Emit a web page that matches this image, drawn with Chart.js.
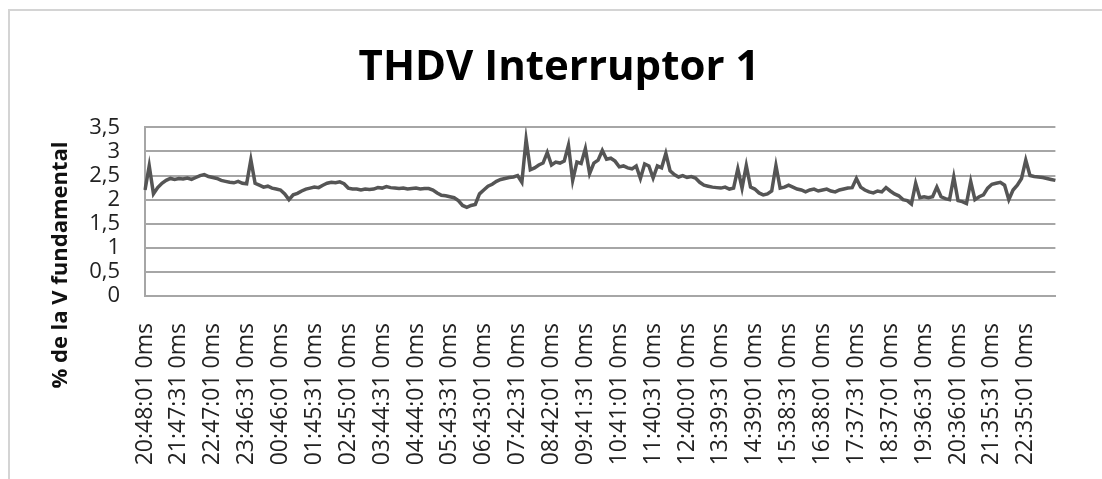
<!DOCTYPE html>
<html>
<head>
<meta charset="utf-8">
<script src="https://cdn.jsdelivr.net/npm/chart.js@4.4.1/dist/chart.umd.min.js"></script>
<style>
  body { margin: 0; background: #fff; }
</style>
</head>
<body>
<canvas id="grafico" width="1102" height="479"></canvas>
<script>
var horas = ['20:48:01 0ms', '21:47:31 0ms', '22:47:01 0ms', '23:46:31 0ms', '00:46:01 0ms',
  '01:45:31 0ms', '02:45:01 0ms', '03:44:31 0ms', '04:44:01 0ms', '05:43:31 0ms',
  '06:43:01 0ms', '07:42:31 0ms', '08:42:01 0ms', '09:41:31 0ms', '10:41:01 0ms',
  '11:40:31 0ms', '12:40:01 0ms', '13:39:31 0ms', '14:39:01 0ms', '15:38:31 0ms',
  '16:38:01 0ms', '17:37:31 0ms', '18:37:01 0ms', '19:36:31 0ms', '20:36:01 0ms',
  '21:35:31 0ms', '22:35:01 0ms']

// 8 muestras entre cada etiqueta de hora
var muestrasPorHora = 8

var thdv = [
  2.2, 2.7, 2.12, 2.25, 2.34, 2.4, 2.44, 2.42,
  2.44, 2.43, 2.45, 2.42, 2.46, 2.5, 2.52, 2.48,
  2.46, 2.44, 2.4, 2.38, 2.36, 2.35, 2.38, 2.34,
  2.33, 2.83, 2.34, 2.3, 2.26, 2.28, 2.24, 2.22,
  2.2, 2.12, 2.0, 2.1, 2.13, 2.18, 2.22, 2.24,
  2.26, 2.25, 2.3, 2.34, 2.36, 2.35, 2.37, 2.33,
  2.24, 2.22, 2.22, 2.2, 2.22, 2.21, 2.22, 2.25,
  2.24, 2.27, 2.25, 2.24, 2.23, 2.24, 2.22, 2.23,
  2.24, 2.22, 2.23, 2.23, 2.2, 2.14, 2.09, 2.08,
  2.06, 2.04, 1.98, 1.88, 1.84, 1.88, 1.9, 2.12,
  2.2, 2.28, 2.32, 2.38, 2.42, 2.44, 2.46, 2.47,
  2.5, 2.36, 3.25, 2.62, 2.66, 2.72, 2.76, 2.98,
  2.72, 2.78, 2.76, 2.8, 3.13, 2.4, 2.78, 2.75,
  3.06, 2.54, 2.76, 2.82, 3.02, 2.84, 2.86, 2.8,
  2.68, 2.7, 2.66, 2.64, 2.7, 2.44, 2.74, 2.7,
  2.45, 2.7, 2.66, 2.96, 2.6, 2.52, 2.47, 2.5,
  2.46, 2.48, 2.45, 2.36, 2.3, 2.28, 2.26, 2.25,
  2.24, 2.26, 2.22, 2.24, 2.64, 2.24, 2.71, 2.26,
  2.22, 2.14, 2.1, 2.12, 2.18, 2.71, 2.24, 2.26,
  2.3, 2.26, 2.22, 2.2, 2.16, 2.2, 2.22, 2.18,
  2.2, 2.22, 2.18, 2.16, 2.2, 2.22, 2.24, 2.25,
  2.44, 2.26, 2.2, 2.16, 2.14, 2.18, 2.16, 2.25,
  2.18, 2.12, 2.08, 2.0, 1.98, 1.91, 2.34, 2.04,
  2.06, 2.04, 2.06, 2.26, 2.06, 2.02, 2.0, 2.47,
  1.98, 1.96, 1.92, 2.38, 2.0, 2.06, 2.1, 2.24,
  2.32, 2.34, 2.36, 2.3, 2.0, 2.2, 2.3, 2.44,
  2.82, 2.5, 2.48, 2.47, 2.46, 2.44, 2.42, 2.4
]

var marcasY = [0, 0.5, 1, 1.5, 2, 2.5, 3, 3.5]

var etiquetas = thdv.map(function (v, i) {
  return i % muestrasPorHora == 0 ? horas[i / muestrasPorHora] : ''
})

// marco del grafico y titulo del eje y
var extras = {
  id: 'extras',
  beforeDraw: function (chart) {
    var ctx = chart.ctx
    ctx.save()
    ctx.fillStyle = '#fff'
    ctx.fillRect(0, 0, chart.width, chart.height)
    ctx.strokeStyle = '#d4d4d4'
    ctx.lineWidth = 2
    ctx.beginPath()
    ctx.moveTo(9, chart.height)
    ctx.lineTo(9, 10)
    ctx.lineTo(chart.width, 10)
    ctx.stroke()
    ctx.restore()
  },
  afterDraw: function (chart) {
    var ctx = chart.ctx
    ctx.save()
    ctx.translate(61, 265)
    ctx.rotate(-Math.PI / 2)
    ctx.font = 'bold 22px "Open Sans"'
    ctx.fillStyle = '#111'
    ctx.textAlign = 'center'
    ctx.textBaseline = 'middle'
    ctx.fillText('% de la V fundamental', 0, 0)
    ctx.restore()
  }
}

const ctx1 = document.getElementById('grafico').getContext('2d')

new Chart(ctx1, {
  type: 'line',
  data: {
    labels: etiquetas,
    datasets: [{
      data: thdv,
      borderColor: '#555555',
      borderWidth: 3.5,
      pointRadius: 0,
      tension: 0
    }]
  },
  options: {
    responsive: false,
    animation: false,
    layout: { padding: { left: 36, right: 20, top: 0, bottom: 0 } },
    plugins: {
      legend: { display: false },
      tooltip: { enabled: false },
      title: {
        display: true,
        text: 'THDV Interruptor 1',
        color: '#000',
        font: { family: 'Open Sans', size: 42, weight: 'bold' },
        padding: { top: 43, bottom: 34 }
      }
    },
    scales: {
      x: {
        grid: { display: false },
        border: { display: true, color: '#a6a6a6', width: 2 },
        ticks: {
          autoSkip: false,
          minRotation: 90,
          maxRotation: 90,
          padding: 19,
          color: '#222',
          font: { family: 'Open Sans', size: 23 }
        },
        afterFit: function (scale) { scale.height = 183 }
      },
      y: {
        min: 0,
        max: 3.5,
        afterBuildTicks: function (scale) {
          scale.ticks = marcasY.map(function (v) { return { value: v } })
        },
        grid: { color: '#a6a6a6', lineWidth: 2, drawTicks: false },
        border: { display: true, color: '#a6a6a6', width: 2 },
        ticks: {
          autoSkip: false,
          padding: 25,
          color: '#222',
          font: { family: 'Open Sans', size: 22 },
          callback: function (v) { return String(v).replace('.', ',') }
        },
        afterFit: function (scale) { scale.width = 109 }
      }
    }
  },
  plugins: [extras]
})
</script>
</body>
</html>
